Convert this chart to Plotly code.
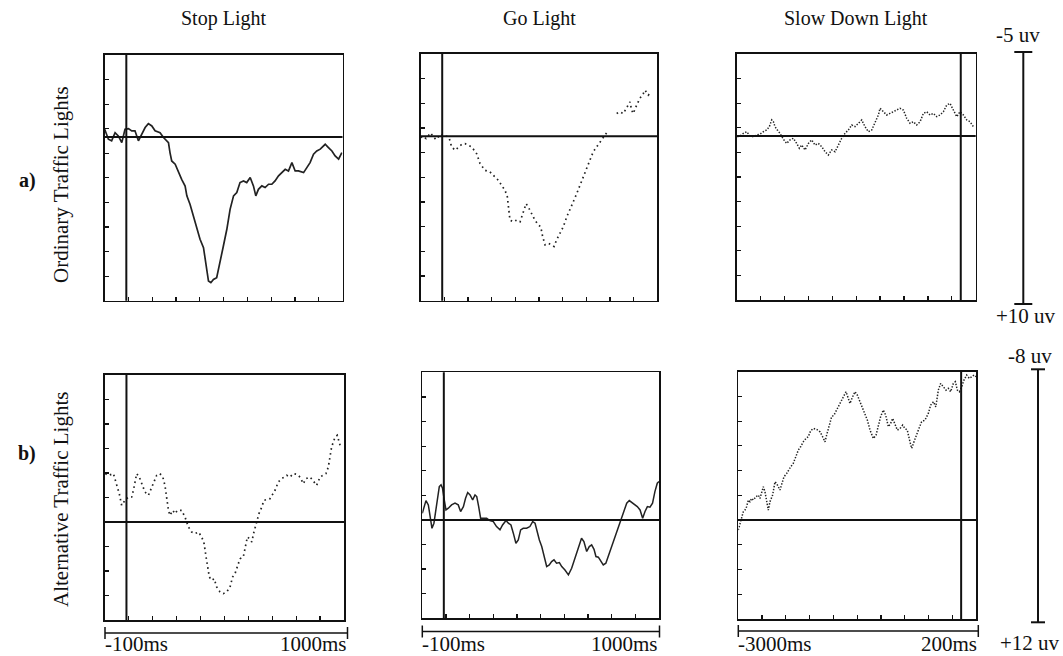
import plotly.graph_objects as go

# ---------------- data ----------------
# Row a) Ordinary Traffic Lights  (microvolts, negative plotted upward)
stop_a_t = [-100, -83, -68, -52, -37, -21, -6, 10, 25, 40, 56, 71, 87, 102, 118, 133, 156, 172, 195, 202,
            210, 226, 241, 256, 272, 280, 295, 310, 326, 341, 357, 364, 372, 380, 391, 403, 418, 434, 449, 465,
            480, 496, 511, 526, 542, 557, 573, 588, 599, 611, 627, 642, 658, 673, 688, 704, 719, 735, 750, 766,
            781, 796, 820, 835, 850, 866, 881, 897, 912, 920, 935, 951, 966, 982, 997]
stop_a_v = [-0.47, 0.14, 0.24, -0.26, -0.06, 0.35, -0.47, -0.51, -0.37, -0.37, 0.24, -0.16, -0.57, -0.81, -0.67,
            -0.37, -0.26, 0.04, 0.35, 0.96, 1.47, 1.67, 2.18, 2.59, 3.0, 3.6, 4.13, 4.85, 5.46, 6.25, 6.76, 7.47,
            8.08, 8.8, 8.9, 8.7, 8.6, 7.67, 6.66, 5.64, 4.42, 3.6, 3.4, 2.79, 2.69, 2.79, 2.48, 2.99, 3.6, 3.2,
            2.99, 3.09, 2.89, 2.89, 2.69, 2.38, 2.18, 1.98, 2.08, 1.57, 2.08, 2.08, 2.18, 1.87, 1.57, 1.06, 0.86,
            0.75, 0.55, 0.45, 0.65, 0.86, 1.16, 1.36, 0.96]

go_a_t = [-100, -88, -75, -64, -54, -41, -29, -18, -7, 5, 21, 33, 44, 60, 75, 91, 106, 137, 160, 176, 199,
          222, 245, 261, 276, 292, 303, 309, 315, 331, 346, 362, 377, 390, 400, 416, 431, 447, 458, 467, 478,
          493, 509, 520, 532, 548, 563, 579, 594, 609, 625, 640, 656, 671, 687, 702, 718, 733, 749, 764, 790,
          811, 827, 842, 858, 873, 881, 888, 904, 919, 935, 943, 958, 974]
go_a_v = [0.08, 0.0, 0.14, -0.06, -0.2, 0.04, 0.2, 0.04, -0.12, 0.0, 0.0, 0.14, 0.65, 0.85, 0.65, 0.49, 0.45,
          0.65, 1.06, 1.66, 2.07, 2.17, 2.47, 2.68, 2.98, 3.29, 3.69, 4.5, 5.1, 5.2, 5.1, 5.2, 4.6, 4.1, 4.3,
          4.7, 5.1, 5.4, 5.5, 6.1, 6.6, 6.5, 6.6, 6.7, 6.3, 5.9, 5.5, 4.9, 4.5, 4.0, 3.5, 3.0, 2.4, 1.87, 1.36,
          0.95, 0.65, 0.35, 0.04, -0.2, None, -1.38, -1.48, -1.38, -1.79, -2.09, -1.58, -1.38, -1.89, -2.3,
          -2.6, -2.8, -2.5, -2.7]

slow_a_t = [-2991, -2955, -2911, -2866, -2821, -2777, -2732, -2688, -2643, -2598, -2563, -2531, -2509, -2487,
            -2456, -2420, -2375, -2331, -2286, -2241, -2197, -2161, -2130, -2085, -2040, -1996, -1951, -1907,
            -1862, -1817, -1773, -1728, -1683, -1639, -1594, -1550, -1505, -1460, -1416, -1371, -1326, -1282,
            -1237, -1192, -1148, -1103, -1081, -1036, -992, -947, -902, -858, -813, -768, -724, -679, -635,
            -590, -545, -500, -456, -411, -367, -322, -278, -233, -188, -144, -99, -54, -10, 35, 80, 124, 169]
slow_a_v = [0.04, 0.0, -0.16, -0.26, 0.0, 0.04, -0.06, -0.12, -0.26, -0.37, -0.57, -0.98, -0.87, -0.57, -0.37,
            -0.16, 0.2, 0.45, 0.24, 0.14, 0.45, 0.75, 0.55, 0.85, 0.45, 0.24, 0.55, 0.45, 0.65, 0.96, 1.16, 0.85,
            0.96, 0.55, 0.14, -0.16, -0.37, -0.67, -0.57, -0.77, -0.98, -0.57, -0.26, -0.37, -0.77, -1.28,
            -1.69, -1.48, -1.28, -1.38, -1.48, -1.58, -1.69, -1.58, -1.08, -0.77, -0.87, -0.67, -0.87, -1.38,
            -1.48, -1.28, -1.38, -1.18, -1.28, -1.48, -1.89, -1.99, -1.59, -1.18, -1.48, -1.28, -0.98, -0.87,
            -0.57]

# Row b) Alternative Traffic Lights
stop_b_t = [-97, -83, -60, -45, -33, -22, -7, 9, 24, 32, 39, 47, 59, 70, 85, 101, 116, 127, 139, 154, 167,
            177, 185, 193, 200, 213, 223, 234, 254, 269, 285, 300, 315, 331, 346, 357, 366, 372, 381, 392, 403,
            415, 430, 445, 461, 476, 488, 499, 510, 522, 537, 545, 556, 565, 576, 586, 599, 609, 622, 632, 660,
            683, 698, 714, 737, 752, 767, 782, 798, 813, 825, 844, 859, 874, 890, 905, 917, 928, 936, 943, 951,
            959, 969, 982]
stop_b_v = [-3.95, -3.81, -3.95, -3.13, -2.31, -1.36, -1.77, -2.04, -2.04, -2.59, -3.4, -3.95, -3.67, -3.13,
            -2.45, -2.18, -2.86, -3.27, -3.81, -3.95, -3.67, -2.99, -2.04, -0.95, -0.54, -0.95, -0.68, -0.95,
            -0.95, -0.41, 0.41, 0.82, 0.95, 0.82, 1.22, 1.77, 2.86, 3.67, 4.49, 4.76, 4.63, 5.31, 5.71, 5.85,
            5.71, 5.31, 4.49, 4.22, 3.54, 3.0, 2.86, 2.04, 1.22, 1.36, 1.63, 0.82, -0.14, -0.68, -1.22, -1.77,
            -1.9, -2.59, -3.27, -3.54, -3.81, -3.67, -3.95, -3.9, -3.67, -3.13, -3.54, -3.67, -3.35, -2.99,
            -3.67, -3.81, -3.95, -4.49, -5.31, -6.12, -6.53, -6.94, -7.08, -6.26]

go_b_t = [-100, -92, -83, -72, -64, -55, -46, -37, -29, -21, -13, -6, 2, 10, 21, 36, 52, 67, 78, 91, 101, 111,
          122, 134, 145, 153, 162, 171, 184, 199, 214, 230, 245, 261, 273, 289, 300, 312, 323, 335, 346, 357,
          369, 385, 400, 413, 424, 431, 444, 455, 465, 478, 490, 501, 512, 524, 537, 548, 563, 579, 594, 609,
          625, 640, 651, 664, 676, 687, 698, 707, 718, 729, 741, 753, 764, 775, 788, 803, 819, 834, 850, 862,
          874, 887, 899, 912, 924, 935, 946, 958, 970, 981, 992, 1000]
go_b_v = [-0.54, -1.08, -1.57, -1.22, -0.27, 0.68, 0.27, -0.81, -1.9, -2.71, -2.85, -2.57, -1.63, -0.81, -0.95,
          -1.22, -1.36, -1.22, -0.68, -1.08, -1.76, -2.22, -2.03, -1.63, -2.03, -1.9, -1.08, -0.14, -0.14,
          -0.14, 0.05, 0.14, 0.54, 0.81, 0.41, 0.05, 0.27, 0.41, 1.08, 1.9, 1.63, 0.81, 0.68, 0.68, 0.54, 0.14,
          0.27, 0.81, 1.63, 2.17, 2.98, 3.79, 3.66, 3.39, 3.25, 3.52, 3.47, 3.79, 4.07, 4.47, 3.93, 3.12, 2.17,
          1.49, 1.76, 2.57, 2.17, 2.03, 2.39, 2.98, 3.03, 3.39, 3.66, 3.52, 2.98, 2.44, 1.63, 0.95, 0.27,
          -0.54, -1.36, -1.57, -1.41, -1.22, -1.08, -0.81, -0.14, -0.68, -1.08, -1.03, -1.36, -2.3, -2.98,
          -3.12]

slow_b_t = [-3000, -2978, -2955, -2933, -2910, -2888, -2865, -2843, -2821, -2798, -2762, -2731, -2708, -2686,
            -2663, -2641, -2619, -2596, -2574, -2538, -2506, -2484, -2439, -2408, -2385, -2349, -2327, -2295,
            -2260, -2224, -2192, -2161, -2125, -2089, -2058, -2026, -1990, -1945, -1900, -1865, -1833, -1811,
            -1775, -1743, -1712, -1676, -1640, -1609, -1577, -1550, -1519, -1497, -1461, -1429, -1398, -1362,
            -1326, -1295, -1263, -1227, -1182, -1146, -1115, -1084, -1048, -1016, -980, -949, -922, -891, -859,
            -823, -787, -756, -725, -689, -666, -635, -599, -568, -532, -487, -442, -410, -372, -341, -307,
            -276, -240, -204, -173, -141, -105, -78, -51, -24, 7, 38, 74, 110, 142, 173, 200]
slow_b_v = [0.81, 0.27, -0.13, -0.67, -0.81, -1.08, -1.62, -1.48, -1.75, -1.62, -1.89, -2.02, -1.75, -2.29,
            -2.7, -2.29, -1.48, -0.81, -1.48, -2.02, -3.1, -2.96, -2.43, -2.96, -3.5, -3.77, -4.04, -4.31,
            -4.58, -5.12, -5.66, -5.93, -6.33, -6.6, -6.74, -7.22, -7.41, -7.33, -7.14, -6.74, -6.33, -6.87,
            -7.68, -8.36, -8.49, -8.9, -9.3, -9.7, -10.1, -10.38, -9.84, -9.43, -9.97, -10.38, -10.11, -9.57,
            -9.16, -8.63, -8.09, -7.28, -6.6, -6.87, -7.68, -8.36, -8.9, -8.49, -7.55, -7.82, -8.22, -7.82,
            -7.28, -7.41, -7.68, -7.41, -7.28, -6.33, -5.8, -6.33, -7.0, -7.41, -7.95, -8.09, -8.63, -9.3,
            -9.57, -9.16, -10.51, -11.05, -10.78, -10.51, -10.65, -10.38, -11.05, -11.19, -10.51, -10.38,
            -10.78, -11.32, -11.73, -11.46, -11.59, -11.73, -11.59]

column_titles = ["Stop Light", "Go Light", "Slow Down Light"]
row_labels = ["Ordinary Traffic Lights", "Alternative Traffic Lights"]
row_letters = ["a)", "b)"]
short_range = [-100, 1000]
long_range = [-3000, 200]
short_labels = ["-100ms", "1000ms"]
long_labels = ["-3000ms", "200ms"]
row_a_uv = [-5, 10]     # top, bottom
row_b_uv = [-12, 8]     # axis span (zero line sits 60 % down)
scale_a_labels = ["-5 uv", "+10 uv"]
scale_b_labels = ["-8 uv", "+12 uv"]

# ---------------- layout helpers ----------------
W, H = 1063, 656
def px(x):
    return x / W
def py(y):
    return 1 - y / H

FONT = "Liberation Serif, Times New Roman, serif"
INK = "#111111"

panels = [
    # t, v, xrange, yrange, x-domain px, y-domain px (top,bottom), dash, width
    (stop_a_t, stop_a_v, short_range, row_a_uv, (104.7, 342.5), (55, 300.7), "solid", 1.7),
    (go_a_t, go_a_v, short_range, row_a_uv, (420.7, 657.3), (54, 300.7), "1.6px,3.4px", 1.7),
    (slow_a_t, slow_a_v, long_range, row_a_uv, (736.7, 975.7), (54, 300.0), "1.4px,1.6px", 1.5),
    (stop_b_t, stop_b_v, short_range, row_b_uv, (104.7, 344.0), (375, 620.0), "1.6px,3.4px", 1.7),
    (go_b_t, go_b_v, short_range, row_b_uv, (422.3, 659.0), (372.3, 618.3), "solid", 1.5),
    (slow_b_t, slow_b_v, long_range, row_b_uv, (738.3, 976.0), (371.7, 619.0), "1.4px,1.6px", 1.5),
]

fig = go.Figure()
shapes = []
annotations = []

for i, (t, v, xr, yr, xd, yd, dash, lw) in enumerate(panels):
    n = "" if i == 0 else str(i + 1)
    xa, ya = "x" + n, "y" + n
    fig.add_trace(go.Scatter(x=t, y=v, mode="lines", xaxis=xa, yaxis=ya,
                             line=dict(color="#222222", width=lw, dash=dash),
                             connectgaps=False, showlegend=False, hoverinfo="skip"))
    span_x = xr[1] - xr[0]
    span_y = yr[1] - yr[0]
    fig.layout["xaxis" + n] = dict(
        domain=[px(xd[0]), px(xd[1])], range=xr, anchor=ya,
        showgrid=False, zeroline=False, showline=True, mirror=True,
        linecolor=INK, linewidth=1.6, ticks="inside", ticklen=4, tickwidth=1.2,
        tickcolor=INK, tickvals=[xr[0] + span_x * k / 10 for k in range(1, 10)],
        showticklabels=False, fixedrange=True)
    fig.layout["yaxis" + n] = dict(
        domain=[py(yd[1]), py(yd[0])], range=[yr[1], yr[0]], anchor=xa,
        showgrid=False, zeroline=False, showline=True, mirror=True,
        linecolor=INK, linewidth=1.6, ticks="inside", ticklen=4, tickwidth=1.2,
        tickcolor=INK, tickvals=[yr[0] + span_y * k / 10 for k in range(1, 10)],
        showticklabels=False, fixedrange=True)
    # stimulus onset line (t = 0) and zero-voltage baseline
    shapes.append(dict(type="line", xref=xa, yref=ya + " domain", x0=0, x1=0, y0=0, y1=1,
                       line=dict(color=INK, width=2)))
    shapes.append(dict(type="line", xref=xa + " domain", yref=ya, x0=0, x1=1, y0=0, y1=0,
                       line=dict(color=INK, width=2)))

# column titles
col_centers = [223.5, 539.0, 856.0]
for title, cx in zip(column_titles, col_centers):
    annotations.append(dict(text=title, x=px(cx), y=py(19), xref="paper", yref="paper",
                            showarrow=False, xanchor="center", yanchor="middle",
                            font=dict(family=FONT, size=20, color=INK)))

# row labels
for lab, cy in zip(row_labels, [185, 500]):
    annotations.append(dict(text=lab, x=px(61), y=py(cy), xref="paper", yref="paper",
                            showarrow=False, textangle=-90, xanchor="center", yanchor="middle",
                            font=dict(family=FONT, size=21, color=INK)))
for lab, cy in zip(row_letters, [181, 454]):
    annotations.append(dict(text="<b>" + lab + "</b>", x=px(27), y=py(cy), xref="paper", yref="paper",
                            showarrow=False, xanchor="center", yanchor="middle",
                            font=dict(family=FONT, size=20, color=INK)))

# time brackets under row b
brackets = [((105, 347.5), 633, short_labels), ((422.3, 659.5), 631.5, short_labels),
            ((738.3, 978.3), 631, long_labels)]
for (x0, x1), yb, labs in brackets:
    shapes.append(dict(type="line", xref="paper", yref="paper", x0=px(x0), x1=px(x1),
                       y0=py(yb), y1=py(yb), line=dict(color=INK, width=1.5)))
    for xe in (x0, x1):
        shapes.append(dict(type="line", xref="paper", yref="paper", x0=px(xe), x1=px(xe),
                           y0=py(yb - 6), y1=py(yb + 6), line=dict(color=INK, width=1.5)))
    annotations.append(dict(text=labs[0], x=px(x0 - 2), y=py(644), xref="paper", yref="paper",
                            showarrow=False, xanchor="left", yanchor="middle",
                            font=dict(family=FONT, size=21, color=INK)))
    annotations.append(dict(text=labs[1], x=px(x1 + 1), y=py(644), xref="paper", yref="paper",
                            showarrow=False, xanchor="right", yanchor="middle",
                            font=dict(family=FONT, size=21, color=INK)))

# voltage scale bars
bars = [(1023.3, 52, 304, 9, scale_a_labels, (1018, 35), (1026, 316)),
        (1038.0, 369.3, 622.3, 7, scale_b_labels, (1030, 356), (1030, 643))]
for xb, yt, yb, cap, labs, lt, lb in bars:
    shapes.append(dict(type="line", xref="paper", yref="paper", x0=px(xb), x1=px(xb),
                       y0=py(yt), y1=py(yb), line=dict(color=INK, width=2)))
    for yy in (yt, yb):
        shapes.append(dict(type="line", xref="paper", yref="paper", x0=px(xb - cap), x1=px(xb + cap),
                           y0=py(yy), y1=py(yy), line=dict(color=INK, width=2)))
    for lab, (lx, ly) in zip(labs, (lt, lb)):
        annotations.append(dict(text=lab, x=px(lx), y=py(ly), xref="paper", yref="paper",
                                showarrow=False, xanchor="center", yanchor="middle",
                                font=dict(family=FONT, size=21, color=INK)))

fig.update_layout(width=W, height=H, margin=dict(l=0, r=0, t=0, b=0),
                  paper_bgcolor="white", plot_bgcolor="white",
                  shapes=shapes, annotations=annotations, showlegend=False)

fig.write_html("out.html", config={"displayModeBar": False, "staticPlot": True},
               post_script="document.body.style.margin='0';document.body.style.overflow='hidden';")
